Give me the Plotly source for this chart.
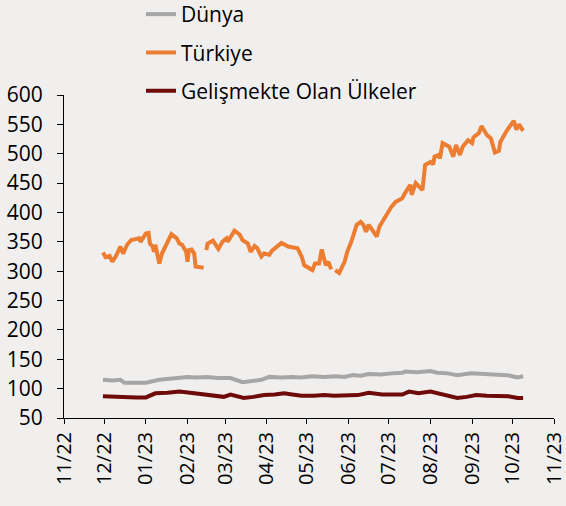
import plotly.graph_objects as go

# ---- data ----
turkiye_dates = [
    "2022-11-30", "2022-12-02", "2022-12-05", "2022-12-07", "2022-12-10", "2022-12-13",
    "2022-12-15", "2022-12-18", "2022-12-21", "2022-12-25", "2022-12-27", "2022-12-28",
    "2023-01-01", "2023-01-03", "2023-01-04", "2023-01-06", "2023-01-07", "2023-01-08",
    "2023-01-11", "2023-01-13", "2023-01-20", "2023-01-24", "2023-01-26", "2023-01-28",
    "2023-01-31", "2023-02-01", "2023-02-02", "2023-02-04", "2023-02-06", "2023-02-07",
    "2023-02-13", "2023-02-14",
    "2023-02-15", "2023-02-16", "2023-02-20", "2023-02-24", "2023-02-27", "2023-03-02",
    "2023-03-03", "2023-03-08", "2023-03-12", "2023-03-14", "2023-03-18", "2023-03-20",
    "2023-03-23", "2023-03-25", "2023-03-28", "2023-03-30", "2023-04-03", "2023-04-05",
    "2023-04-12", "2023-04-17", "2023-04-24", "2023-04-27", "2023-04-29", "2023-05-05",
    "2023-05-07", "2023-05-10", "2023-05-12", "2023-05-15", "2023-05-17", "2023-05-19",
    "2023-05-20",
    "2023-05-22", "2023-05-25", "2023-05-29", "2023-05-31", "2023-06-03", "2023-06-07",
    "2023-06-10", "2023-06-12", "2023-06-14", "2023-06-16", "2023-06-22", "2023-06-24",
    "2023-07-03", "2023-07-06", "2023-07-11", "2023-07-13", "2023-07-17", "2023-07-18",
    "2023-07-21", "2023-07-26", "2023-07-28", "2023-08-01", "2023-08-03", "2023-08-04",
    "2023-08-07", "2023-08-08", "2023-08-10", "2023-08-15", "2023-08-18", "2023-08-20",
    "2023-08-23", "2023-08-25", "2023-08-29", "2023-09-01", "2023-09-02", "2023-09-06",
    "2023-09-08", "2023-09-12", "2023-09-15", "2023-09-18", "2023-09-21", "2023-09-22",
    "2023-09-27", "2023-10-02", "2023-10-04", "2023-10-06", "2023-10-09",
]
turkiye_values = [
    332, 324, 326, 316, 327, 342,
    330, 345, 353, 356, 356, 350,
    364, 365, 347, 342, 333, 345,
    313, 330, 363, 356, 347, 345,
    333, 316, 336, 337, 330, 308,
    306, None,
    336, 347, 352, 338, 350, 356,
    350, 369, 362, 353, 347, 333,
    343, 339, 325, 330, 328, 335,
    348, 342, 339, 325, 310, 302,
    313, 313, 337, 310, 316, 303,
    None,
    302, 297, 316, 333, 350, 379,
    384, 379, 367, 379, 359, 376,
    410, 418, 424, 433, 447, 430,
    450, 438, 481, 486, 482, 495,
    498, 492, 518, 512, 495, 515,
    498, 512, 523, 518, 528, 535,
    547, 532, 526, 502, 505, 520,
    540, 556, 541, 550, 539,
]

dunya_dates = [
    "2022-11-30", "2022-12-07", "2022-12-13", "2022-12-16", "2022-12-23", "2023-01-01",
    "2023-01-11", "2023-01-20", "2023-02-01", "2023-02-08", "2023-02-15", "2023-02-24",
    "2023-03-05", "2023-03-14", "2023-03-21", "2023-03-28", "2023-04-03", "2023-04-12",
    "2023-04-20", "2023-04-27", "2023-05-05", "2023-05-14", "2023-05-22", "2023-05-29",
    "2023-06-04", "2023-06-10", "2023-06-16", "2023-06-25", "2023-07-03", "2023-07-11",
    "2023-07-13", "2023-07-22", "2023-08-01", "2023-08-06", "2023-08-14", "2023-08-21",
    "2023-08-31", "2023-09-08", "2023-09-18", "2023-09-27", "2023-10-05", "2023-10-09",
]
dunya_values = [
    115, 114, 115, 110, 110, 110,
    115, 117, 120, 119, 120, 118,
    118, 111, 113, 115, 120, 119,
    120, 119, 121, 120, 121, 120,
    123, 122, 125, 124, 126, 127,
    129, 128, 130, 127, 126, 123,
    126, 125, 125, 123, 119, 121,
]

em_dates = [
    "2022-11-30", "2022-12-08", "2022-12-17", "2022-12-25", "2023-01-01", "2023-01-08",
    "2023-01-17", "2023-01-26", "2023-02-03", "2023-02-10", "2023-02-18", "2023-02-28",
    "2023-03-05", "2023-03-15", "2023-03-22", "2023-03-30", "2023-04-07", "2023-04-14",
    "2023-04-20", "2023-04-27", "2023-05-06", "2023-05-14", "2023-05-21", "2023-05-29",
    "2023-06-08", "2023-06-16", "2023-06-26", "2023-07-04", "2023-07-11", "2023-07-16",
    "2023-07-23", "2023-08-01", "2023-08-05", "2023-08-11", "2023-08-21", "2023-08-28",
    "2023-09-04", "2023-09-12", "2023-09-21", "2023-09-28", "2023-10-05", "2023-10-09",
]
em_values = [
    87, 86, 85, 85, 85, 92,
    93, 95, 93, 91, 88, 86,
    90, 84, 86, 89, 90, 92,
    90, 88, 88, 89, 88, 88,
    89, 93, 90, 90, 90, 95,
    92, 95, 93, 89, 84, 86,
    89, 88, 88, 87, 84, 84,
]

y_ticks = [50, 100, 150, 200, 250, 300, 350, 400, 450, 500, 550, 600]

# ---- figure ----
FONT = "Open Sans"
BG = "#f1efee"
FS = 21
M_L, M_R, M_T, M_B = 64, 12, 95, 88
PLOT_H = 506 - M_T - M_B

fig = go.Figure()
fig.add_trace(go.Scatter(x=dunya_dates, y=dunya_values, mode="lines", name="Dünya",
                         legendgroup="a", line=dict(color="#a6a6a6", width=4)))
fig.add_trace(go.Scatter(x=turkiye_dates, y=turkiye_values, mode="lines", name="Türkiye",
                         legendgroup="b", connectgaps=False,
                         line=dict(color="#ed7d31", width=4)))
fig.add_trace(go.Scatter(x=em_dates, y=em_values, mode="lines", name="Gelişmekte Olan Ülkeler",
                         legendgroup="c", line=dict(color="#6e0a0a", width=4)))

fig.update_layout(
    width=566, height=506,
    margin=dict(l=M_L, r=M_R, t=M_T, b=M_B, autoexpand=False),
    paper_bgcolor=BG, plot_bgcolor=BG,
    font=dict(family=FONT, size=FS, color="#000000"),
    showlegend=True,
    legend=dict(
        xref="container", yref="paper", x=141 / 566, y=1 + (M_T + 6) / PLOT_H,
        xanchor="left", yanchor="top",
        bgcolor="rgba(0,0,0,0)", traceorder="grouped", tracegroupgap=8,
        font=dict(family=FONT, size=FS, color="#000000"),
        itemwidth=30,
    ),
    xaxis=dict(
        type="date", range=["2022-11-01", "2023-11-01"],
        dtick="M1", tick0="2022-11-01", tickformat="%m/%y", tickangle=-90,
        showgrid=False, zeroline=False,
        showline=True, linecolor="#000000", linewidth=1,
        ticks="outside", ticklen=5, tickcolor="#000000",
        tickfont=dict(family=FONT, size=FS - 1),
        ticklabeloverflow="allow",
    ),
    yaxis=dict(
        range=[50, 600], tickvals=y_ticks,
        showgrid=False, zeroline=False,
        showline=True, linecolor="#000000", linewidth=1,
        ticks="outside", ticklen=6, tickcolor="#000000",
        tickfont=dict(family=FONT, size=FS),
        ticklabelstandoff=10, ticklabeloverflow="allow",
    ),
)

fig.write_html("out.html", config={"displayModeBar": False},
               post_script="document.body.style.margin='0';")
